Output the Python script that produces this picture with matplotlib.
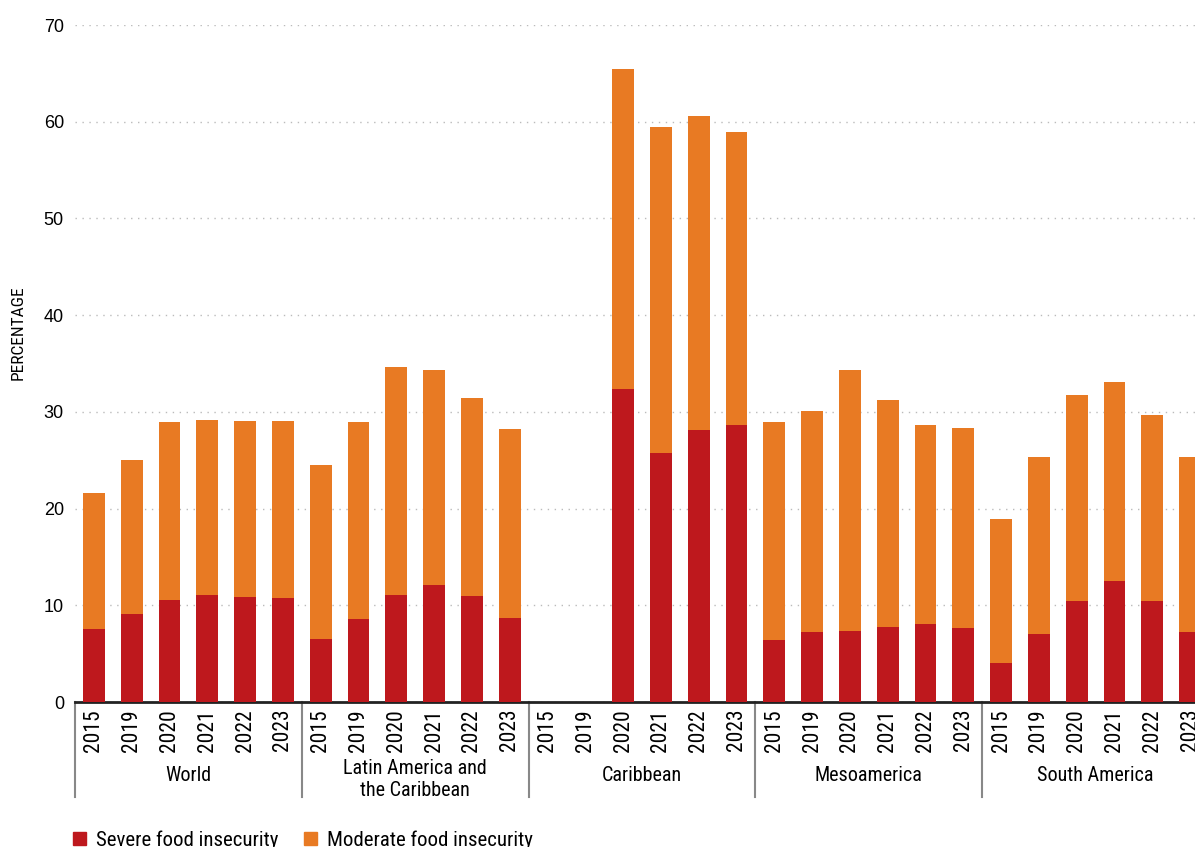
import matplotlib
matplotlib.use("Agg")
import matplotlib.pyplot as plt
import matplotlib.transforms as mtransforms
from matplotlib.patches import Patch
import numpy as np

# data
groups = ["World", "Latin America and\nthe Caribbean", "Caribbean", "Mesoamerica", "South America"]
years = ["2015", "2019", "2020", "2021", "2022", "2023"]

severe_world = [7.5, 9.1, 10.5, 11.1, 10.9, 10.8]
total_world = [21.6, 25.0, 28.9, 29.2, 29.1, 29.1]
severe_lac = [6.5, 8.6, 11.1, 12.1, 11.0, 8.7]
total_lac = [24.5, 29.0, 34.6, 34.3, 31.4, 28.2]
severe_carib = [np.nan, np.nan, 32.4, 25.7, 28.1, 28.6]
total_carib = [np.nan, np.nan, 65.5, 59.5, 60.6, 58.9]
severe_meso = [6.4, 7.2, 7.3, 7.8, 8.1, 7.7]
total_meso = [29.0, 30.1, 34.3, 31.2, 28.6, 28.3]
severe_sa = [4.0, 7.0, 10.4, 12.5, 10.4, 7.2]
total_sa = [18.9, 25.3, 31.7, 33.1, 29.7, 25.3]

severe = np.array(severe_world + severe_lac + severe_carib + severe_meso + severe_sa)
total = np.array(total_world + total_lac + total_carib + total_meso + total_sa)
moderate = total - severe

red = "#BE181D"
orange = "#E87A23"
narrow = ["Roboto Condensed", "Liberation Sans Narrow", "Liberation Sans", "DejaVu Sans"]
plt.rcParams["font.family"] = ["Liberation Sans", "DejaVu Sans"]

fig = plt.figure(figsize=(11.95, 8.47), dpi=100)
ax = fig.add_axes([75 / 1195, (847 - 702) / 847, 1 - 75 / 1195, 677 / 847])

x = np.arange(len(severe))
w = 0.58
ax.bar(x, severe, width=w, color=red, zorder=3)
ax.bar(x, moderate, bottom=severe, width=w, color=orange, zorder=3)

ax.set_xlim(-0.5, 29.13)
ax.set_ylim(0, 70)
ax.set_yticks(range(0, 71, 10))
ax.yaxis.grid(True, linestyle=(0, (1, 4)), color="#bbbbbb", linewidth=1)
ax.set_axisbelow(True)
for s in ["left", "right", "top"]:
    ax.spines[s].set_visible(False)
ax.spines["bottom"].set_linewidth(2)
ax.spines["bottom"].set_color("#222222")
ax.tick_params(axis="y", length=0, labelsize=13, pad=8)
ax.tick_params(axis="x", length=0, pad=5)
ax.set_xticks(x)
ax.set_xticklabels(years * len(groups), rotation=90, fontsize=15.5, family=narrow)

fig.text(18 / 1195, (847 - 333) / 847, "PERCENTAGE", rotation=90, ha="center", va="center",
         family=narrow, fontsize=12.5)

trans = mtransforms.blended_transform_factory(ax.transData, ax.transAxes)
for i in range(len(groups) + 1):
    xs = i * 6 - 0.5
    ax.plot([xs, xs], [0, -0.14], transform=trans, color="#888888", lw=1.5, clip_on=False)
for i, g in enumerate(groups):
    yy = -0.114 if "\n" in g else -0.108
    ax.text(i * 6 + 2.5, yy, g, transform=trans, ha="center", va="center",
            fontsize=14.5, family=narrow, linespacing=1.2)

handles = [Patch(color=red, label="Severe food insecurity"),
           Patch(color=orange, label="Moderate food insecurity")]
fig.legend(handles=handles, loc="center left", bbox_to_anchor=(54 / 1195, (847 - 840) / 847),
           ncol=2, frameon=False, prop={"family": narrow, "size": 15},
           handlelength=0.62, handleheight=0.62, handletextpad=0.5, columnspacing=1.2)

fig.savefig("out.png", dpi=100)
